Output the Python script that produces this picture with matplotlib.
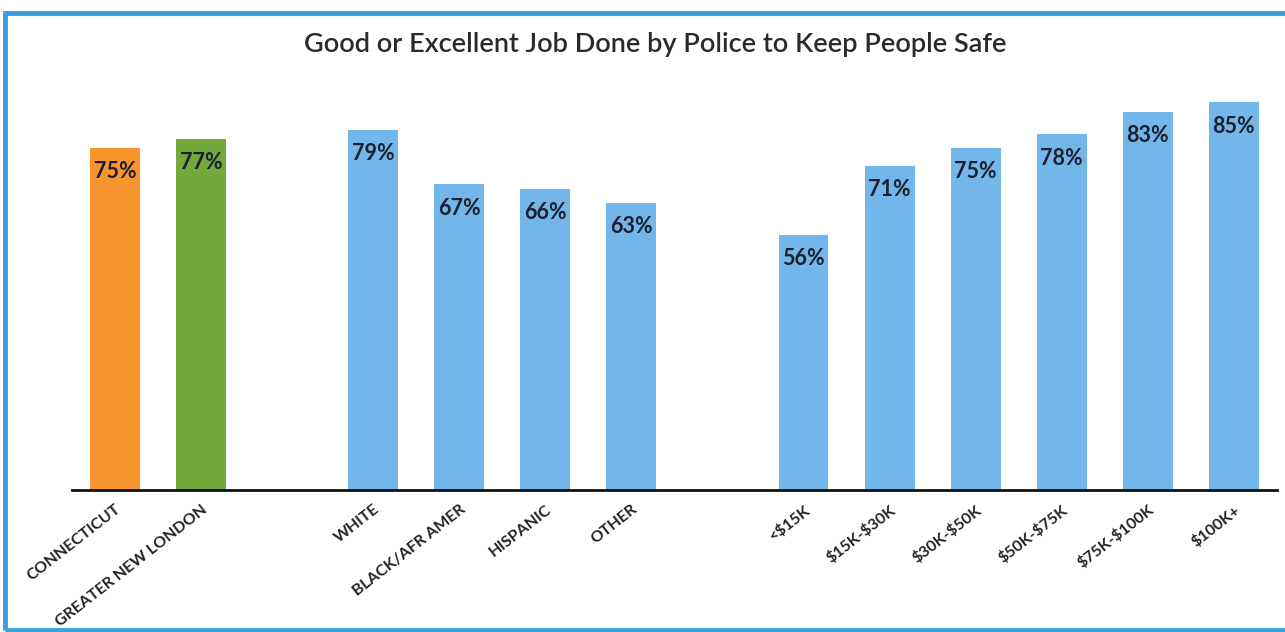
import matplotlib.pyplot as plt
from matplotlib.patches import Rectangle

# chart data
categories = ['CONNECTICUT', 'GREATER NEW LONDON',
              'WHITE', 'BLACK/AFR AMER', 'HISPANIC', 'OTHER',
              '<$15K', '$15K-$30K', '$30K-$50K', '$50K-$75K', '$75K-$100K', '$100K+']
values = [75, 77, 79, 67, 66, 63, 56, 71, 75, 78, 83, 85]
slots = [0, 1, 3, 4, 5, 6, 8, 9, 10, 11, 12, 13]  # gaps between groups
colors = ['#F7952E', '#72A93D'] + ['#72B6EA'] * 10

plt.rcParams['font.family'] = ['Lato', 'DejaVu Sans']
plt.rcParams['text.parse_math'] = False  # keep the $ signs literal

fig = plt.figure(figsize=(12.85, 6.32), dpi=100)
ax = fig.add_axes([0.056, 0.2247, 0.9377, 0.7215])

ax.bar(slots, values, width=0.58, color=colors)

for x, v in zip(slots, values):
    ax.text(x, v - 5.2, f'{v}%', ha='center', va='center',
            fontsize=15.5, fontweight='bold', color='#1c1f2e')

ax.set_xlim(-0.5, 13.5)
ax.set_ylim(0, 100)
ax.set_xticks(slots)
ax.set_xticklabels(categories, rotation=38, ha='right', rotation_mode='anchor',
                   fontsize=11.5, fontweight='bold', color='#222222')
ax.tick_params(axis='x', length=0, pad=9)
ax.set_yticks([])
for s in ['top', 'right', 'left']:
    ax.spines[s].set_visible(False)
ax.spines['bottom'].set_linewidth(2)
ax.spines['bottom'].set_color('#111111')

fig.text(0.51, 0.93, 'Good or Excellent Job Done by Police to Keep People Safe',
         ha='center', va='center', fontsize=19.5, fontweight='semibold', color='#2a2a2a')

# blue frame of the scanned chart
fig.patches.append(Rectangle((0.004, 0.003), 1.2, 0.977, transform=fig.transFigure,
                             fill=False, edgecolor='#3A9FDF', linewidth=3.5))

fig.savefig('out.png', dpi=100)
